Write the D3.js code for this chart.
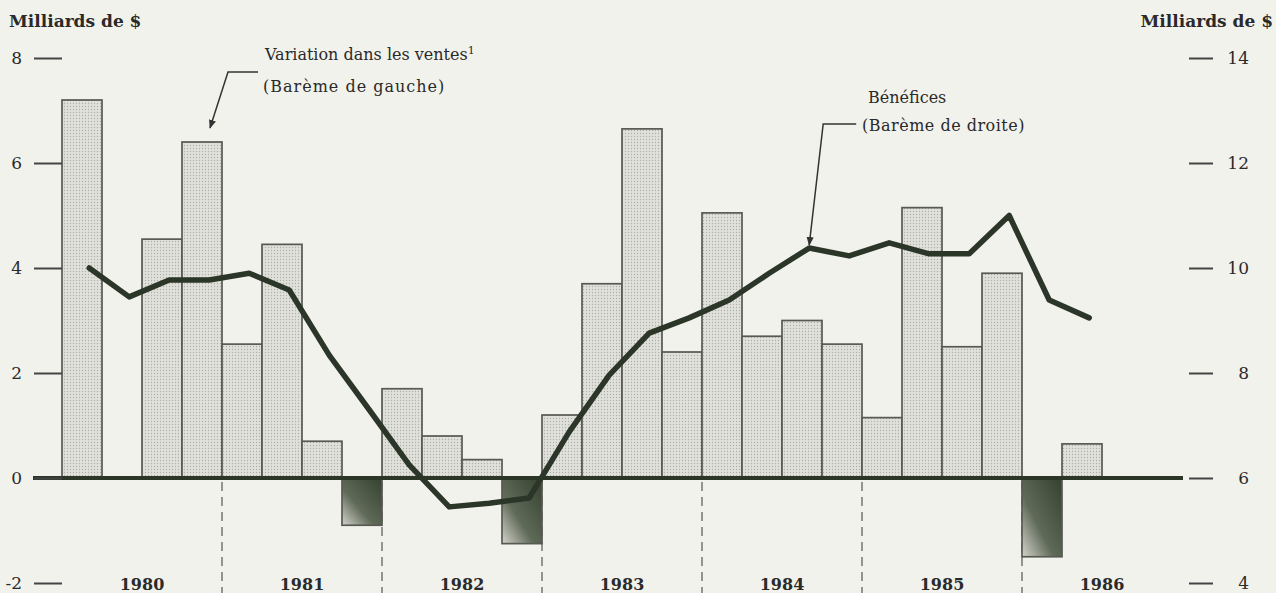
<!DOCTYPE html>
<html>
<head>
<meta charset="utf-8">
<script src="https://cdn.jsdelivr.net/npm/d3@7"></script>
<style>
  html, body { margin: 0; padding: 0; background: #f2f2ed; }
  svg { display: block; }
</style>
</head>
<body>
<div id="chart"></div>
<script>
const W = 1276, H = 593;

// quarterly data, 1980 T1 .. 1986 T2
const years = ["1980", "1981", "1982", "1983", "1984", "1985", "1986"];
const quarters = [
  "1980T1", "1980T2", "1980T3", "1980T4",
  "1981T1", "1981T2", "1981T3", "1981T4",
  "1982T1", "1982T2", "1982T3", "1982T4",
  "1983T1", "1983T2", "1983T3", "1983T4",
  "1984T1", "1984T2", "1984T3", "1984T4",
  "1985T1", "1985T2", "1985T3", "1985T4",
  "1986T1", "1986T2"
];
// variation dans les ventes (barème de gauche)
const salesChange = [
  7.2, 0, 4.55, 6.4,
  2.55, 4.45, 0.7, -0.9,
  1.7, 0.8, 0.35, -1.25,
  1.2, 3.7, 6.65, 2.4,
  5.05, 2.7, 3.0, 2.55,
  1.15, 5.15, 2.5, 3.9,
  -1.5, 0.65
];
// bénéfices (barème de droite)
const profits = [
  10.0, 9.45, 9.77, 9.77,
  9.9, 9.58, 8.34, 7.3,
  6.25, 5.45, 5.52, 5.62,
  6.88, 7.96, 8.76, 9.05,
  9.39, 9.9, 10.38, 10.23,
  10.48, 10.27, 10.27, 11.0,
  9.39, 9.05
];
const leftTicks = [-2, 0, 2, 4, 6, 8];
const rightTicks = [4, 6, 8, 10, 12, 14];

const SERIF = "'DejaVu Serif', serif";
const INK = "#2b3628";
const TXT = "#2a2a2a";

const svg = d3.select("#chart").append("svg")
  .attr("width", W).attr("height", H);

const defs = svg.append("defs");

// stipple texture for the bars
const pat = defs.append("pattern")
  .attr("id", "stip").attr("width", 3).attr("height", 3)
  .attr("patternUnits", "userSpaceOnUse");
pat.append("rect").attr("width", 3).attr("height", 3).attr("fill", "#e1e1db");
pat.append("circle").attr("cx", 1.5).attr("cy", 1.5).attr("r", 0.65).attr("fill", "#aeaea6");

const grad = defs.append("linearGradient")
  .attr("id", "neg").attr("x1", 1).attr("y1", 0).attr("x2", 0).attr("y2", 1);
grad.append("stop").attr("offset", 0).attr("stop-color", "#34412e");
grad.append("stop").attr("offset", 0.6).attr("stop-color", "#5f6a58");
grad.append("stop").attr("offset", 1).attr("stop-color", "#d4d4cc");

defs.append("marker")
  .attr("id", "arrow").attr("viewBox", "0 0 10 10")
  .attr("refX", 9).attr("refY", 5)
  .attr("markerWidth", 9).attr("markerHeight", 9)
  .attr("markerUnits", "userSpaceOnUse")
  .attr("orient", "auto")
  .append("path").attr("d", "M0,1 L10,5 L0,9 Z").attr("fill", "#333");

svg.append("rect").attr("width", W).attr("height", H).attr("fill", "#f2f2ed");

const x = d3.scaleBand().domain(quarters).range([62, 62 + quarters.length * 40]).padding(0);
const yL = d3.scaleLinear().domain([-2, 8]).range([583, 58]);
const yR = d3.scaleLinear().domain([4, 14]).range([583, 58]);
const bw = x.bandwidth();
const lineX = (i) => x(quarters[i]) + bw * 0.68;

// year separators (dashed)
svg.append("g").selectAll("line")
  .data(years.slice(1))
  .join("line")
  .attr("x1", (d, i) => x(quarters[(i + 1) * 4]))
  .attr("x2", (d, i) => x(quarters[(i + 1) * 4]))
  .attr("y1", yL(0) + 4).attr("y2", H)
  .attr("stroke", "#555").attr("stroke-width", 1.2)
  .attr("stroke-dasharray", "9,6");

// bars
svg.append("g").selectAll("rect")
  .data(salesChange)
  .join("rect")
  .attr("x", (d, i) => x(quarters[i]))
  .attr("width", bw)
  .attr("y", (d) => yL(Math.max(0, d)))
  .attr("height", (d) => Math.abs(yL(d) - yL(0)))
  .attr("fill", (d) => d < 0 ? "url(#neg)" : "url(#stip)")
  .attr("stroke", "#575953").attr("stroke-width", 1.7);

// zero line
svg.append("line")
  .attr("x1", 33).attr("x2", 1183)
  .attr("y1", yL(0)).attr("y2", yL(0))
  .attr("stroke", INK).attr("stroke-width", 4);

// left axis
const leftAxis = svg.append("g")
  .attr("transform", "translate(62,0)")
  .call(d3.axisLeft(yL).tickValues(leftTicks).tickSize(28).tickPadding(12)
    .tickFormat((d) => d < 0 ? "-" + Math.abs(d) : d));
leftAxis.select(".domain").remove();
leftAxis.selectAll("line").attr("stroke", "#444").attr("stroke-width", 2);
leftAxis.selectAll("text")
  .attr("font-family", SERIF).attr("font-size", 17).attr("fill", TXT);

// right axis
const rightAxis = svg.append("g")
  .attr("transform", "translate(1189,0)")
  .call(d3.axisRight(yR).tickValues(rightTicks).tickSize(24));
rightAxis.select(".domain").remove();
rightAxis.selectAll("line").attr("stroke", "#444").attr("stroke-width", 2);
rightAxis.selectAll("text")
  .attr("text-anchor", "end").attr("x", 60)
  .attr("font-family", SERIF).attr("font-size", 17).attr("fill", TXT);

// profits line
const line = d3.line().x((d, i) => lineX(i)).y((d) => yR(d));
svg.append("path")
  .datum(profits)
  .attr("d", line)
  .attr("fill", "none")
  .attr("stroke", INK).attr("stroke-width", 5.5)
  .attr("stroke-linejoin", "round").attr("stroke-linecap", "round");

// year labels
svg.append("g").selectAll("text")
  .data(years)
  .join("text")
  .attr("x", (d, i) => x(quarters[Math.min(i * 4, quarters.length - 1)]) + bw * 2)
  .attr("y", 590)
  .attr("text-anchor", "middle")
  .attr("font-family", SERIF).attr("font-weight", "bold")
  .attr("font-size", 16).attr("fill", TXT)
  .text((d) => d);

// axis titles
svg.append("text").attr("x", 9).attr("y", 27)
  .attr("font-family", SERIF).attr("font-weight", "bold").attr("font-size", 17)
  .attr("fill", TXT).text("Milliards de $");
svg.append("text").attr("x", 1273).attr("y", 27).attr("text-anchor", "end")
  .attr("font-family", SERIF).attr("font-weight", "bold").attr("font-size", 17)
  .attr("fill", TXT).text("Milliards de $");

// annotation: sales
const sTipX = x(quarters[3]) + bw * 0.7, sTipY = yL(salesChange[3]) - 14;
svg.append("path")
  .attr("d", `M${sTipX + 48},72 L${sTipX + 18},72 L${sTipX},${sTipY}`)
  .attr("fill", "none").attr("stroke", "#333").attr("stroke-width", 1.5)
  .attr("marker-end", "url(#arrow)");
const sTxt = svg.append("text").attr("x", 265).attr("y", 60)
  .attr("font-family", SERIF).attr("font-size", 16).attr("fill", TXT);
sTxt.append("tspan").text("Variation dans les ventes");
sTxt.append("tspan").attr("dy", -6).attr("font-size", 11).text("1");
svg.append("text").attr("x", 263).attr("y", 92)
  .attr("font-family", SERIF).attr("font-size", 16).attr("fill", TXT)
  .attr("letter-spacing", 1)
  .text("(Barème de gauche)");

// annotation: profits
const pTipX = lineX(18), pTipY = yR(profits[18]) - 3;
svg.append("path")
  .attr("d", `M${pTipX + 47},124 L${pTipX + 14},124 L${pTipX},${pTipY}`)
  .attr("fill", "none").attr("stroke", "#333").attr("stroke-width", 1.5)
  .attr("marker-end", "url(#arrow)");
svg.append("text").attr("x", 868).attr("y", 103)
  .attr("font-family", SERIF).attr("font-size", 16).attr("fill", TXT)
  .text("Bénéfices");
svg.append("text").attr("x", 862).attr("y", 131)
  .attr("font-family", SERIF).attr("font-size", 16).attr("fill", TXT)
  .attr("letter-spacing", 0.5)
  .text("(Barème de droite)");
</script>
</body>
</html>
